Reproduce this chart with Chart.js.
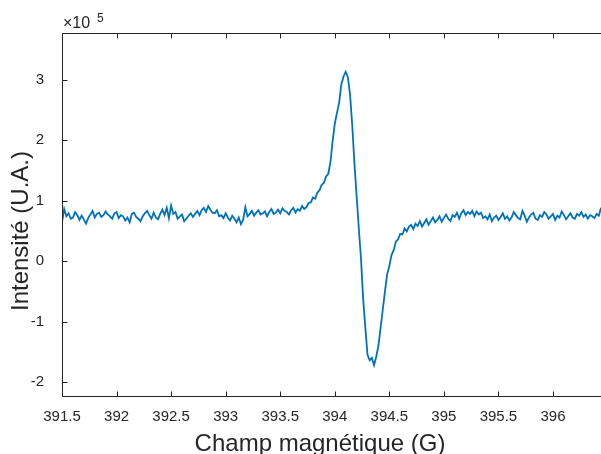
<!doctype html>
<html>
    <head>
        <title>Spectre RPE</title>
        <script src="https://cdn.jsdelivr.net/npm/chart.js@4/dist/chart.umd.min.js"></script>
        <style>
            html, body { margin: 0; padding: 0; background: #fff; }
            #chart { display: block; }
        </style>
    </head>
    <body>
        <canvas id="chart" width="601" height="454"></canvas>
        <script>
            // sampling of the field axis (G)
            const fieldStart = 391.5;
            const fieldStep = 0.02;
            const fieldMin = 391.5;
            const fieldMax = 396.44;
            const yMin = -2.23;
            const yMax = 3.77;
            const xTickValues = [391.5, 392, 392.5, 393, 393.5, 394, 394.5, 395, 395.5, 396];
            const yTickValues = [-2, -1, 0, 1, 2, 3];
            const xTitle = 'Champ magnétique (G)';
            const yTitle = 'Intensité (U.A.)';

            // intensity, in units of 1e5
            const intensity = [
                0.64, 0.86, 0.74, 0.79, 0.70, 0.72, 0.81, 0.76, 0.68, 0.75,
                0.69, 0.62, 0.71, 0.77, 0.83, 0.72, 0.78, 0.80, 0.73, 0.76,
                0.82, 0.77, 0.74, 0.70, 0.79, 0.81, 0.71, 0.76, 0.74, 0.67,
                0.72, 0.64, 0.78, 0.80, 0.73, 0.70, 0.66, 0.74, 0.79, 0.83,
                0.76, 0.70, 0.80, 0.72, 0.69, 0.78, 0.85, 0.76, 0.88, 0.71,
                0.92, 0.78, 0.81, 0.70, 0.74, 0.77, 0.66, 0.70, 0.75, 0.79,
                0.73, 0.78, 0.83, 0.76, 0.84, 0.88, 0.81, 0.91, 0.85, 0.80,
                0.79, 0.84, 0.74, 0.76, 0.71, 0.79, 0.72, 0.67, 0.75, 0.70,
                0.64, 0.72, 0.61, 0.68, 0.89, 0.74, 0.78, 0.83, 0.75, 0.80,
                0.84, 0.77, 0.79, 0.82, 0.74, 0.81, 0.86, 0.78, 0.80, 0.85,
                0.79, 0.87, 0.83, 0.81, 0.77, 0.84, 0.88, 0.80, 0.86, 0.83,
                0.91, 0.86, 0.89, 0.96, 0.97, 1.05, 1.03, 1.13, 1.17, 1.26,
                1.29, 1.40, 1.44, 1.63, 1.98, 2.27, 2.45, 2.62, 2.92, 3.05,
                3.13, 3.04, 2.75, 2.25, 1.62, 1.08, 0.55, 0.05, -0.62, -1.10,
                -1.55, -1.64, -1.60, -1.72, -1.58, -1.40, -1.10, -0.80, -0.50, -0.22,
                -0.08, 0.10, 0.18, 0.32, 0.36, 0.45, 0.44, 0.54, 0.49, 0.57,
                0.60, 0.53, 0.62, 0.58, 0.66, 0.57, 0.63, 0.69, 0.60, 0.66,
                0.72, 0.64, 0.68, 0.74, 0.65, 0.71, 0.77, 0.70, 0.66, 0.76,
                0.73, 0.80, 0.70, 0.79, 0.84, 0.76, 0.81, 0.78, 0.83, 0.74,
                0.82, 0.77, 0.80, 0.71, 0.74, 0.69, 0.77, 0.66, 0.72, 0.75,
                0.68, 0.73, 0.79, 0.70, 0.74, 0.67, 0.72, 0.81, 0.76, 0.71,
                0.69, 0.83, 0.75, 0.65, 0.72, 0.77, 0.80, 0.70, 0.68, 0.76,
                0.73, 0.81, 0.77, 0.70, 0.74, 0.78, 0.68, 0.75, 0.72, 0.82,
                0.76, 0.69, 0.74, 0.79, 0.72, 0.70, 0.78, 0.75, 0.81, 0.73,
                0.77, 0.70, 0.76, 0.74, 0.71, 0.78, 0.75, 0.88
            ];

            const AXIS_COLOR = '#262626';
            const LINE_COLOR = '#0072BD';
            const FONT = '"Liberation Sans", Arial, Helvetica, sans-serif';

            var points = [];
            for (var i = 0; i < intensity.length; i++) {
                points.push({ x: fieldStart + i * fieldStep, y: intensity[i] });
            }

            // box, inward ticks, axis titles and the x10^5 factor
            const matlabAxes = {
                id: 'matlabAxes',
                afterDraw: function (chart) {
                    var ctx = chart.ctx;
                    var a = chart.chartArea;
                    var xs = chart.scales.x;
                    var ys = chart.scales.y;
                    var L = Math.round(a.left) + 0.5;
                    var T = Math.round(a.top) + 0.5;
                    var B = Math.round(a.bottom) + 0.5;
                    var R = a.right;
                    ctx.save();
                    ctx.strokeStyle = AXIS_COLOR;
                    ctx.lineWidth = 1;
                    ctx.beginPath();
                    ctx.moveTo(R, T); ctx.lineTo(L, T); ctx.lineTo(L, B); ctx.lineTo(R, B);
                    xTickValues.forEach(function (v) {
                        var px = Math.round(xs.getPixelForValue(v)) + 0.5;
                        ctx.moveTo(px, B); ctx.lineTo(px, B - 5);
                        ctx.moveTo(px, T); ctx.lineTo(px, T + 5);
                    });
                    yTickValues.forEach(function (v) {
                        var py = Math.round(ys.getPixelForValue(v)) + 0.5;
                        ctx.moveTo(L, py); ctx.lineTo(L + 5, py);
                    });
                    ctx.stroke();

                    ctx.fillStyle = AXIS_COLOR;
                    ctx.font = '24px ' + FONT;
                    ctx.textAlign = 'center';
                    ctx.textBaseline = 'alphabetic';
                    ctx.fillText(xTitle, 320, 451);

                    ctx.save();
                    ctx.translate(28, 231);
                    ctx.rotate(-Math.PI / 2);
                    ctx.fillText(yTitle, 0, 0);
                    ctx.restore();

                    ctx.textAlign = 'left';
                    ctx.font = '16px ' + FONT;
                    ctx.fillText('\u00d710', 63, 28);
                    ctx.font = '12px ' + FONT;
                    ctx.fillText('5', 97, 22);
                    ctx.restore();
                }
            };

            new Chart(document.getElementById('chart').getContext('2d'), {
                type: 'line',
                data: {
                    datasets: [{
                        data: points,
                        borderColor: LINE_COLOR,
                        borderWidth: 1.8,
                        pointRadius: 0,
                        fill: false,
                        tension: 0
                    }]
                },
                options: {
                    responsive: false,
                    animation: false,
                    devicePixelRatio: 1,
                    layout: { padding: { top: 33, right: 0, left: 0, bottom: 0 } },
                    plugins: {
                        legend: { display: false },
                        tooltip: { enabled: false }
                    },
                    scales: {
                        x: {
                            type: 'linear',
                            min: fieldMin,
                            max: fieldMax,
                            border: { display: false },
                            grid: { display: false, drawTicks: false },
                            afterBuildTicks: function (scale) {
                                scale.ticks = xTickValues.map(function (v) { return { value: v }; });
                            },
                            afterFit: function (scale) { scale.height = 58; },
                            ticks: {
                                color: AXIS_COLOR,
                                font: { family: FONT, size: 15 },
                                padding: 12,
                                maxRotation: 0,
                                autoSkip: false,
                                callback: function (v) { return String(v); }
                            }
                        },
                        y: {
                            min: yMin,
                            max: yMax,
                            border: { display: false },
                            grid: { display: false, drawTicks: false },
                            afterBuildTicks: function (scale) {
                                scale.ticks = yTickValues.map(function (v) { return { value: v }; });
                            },
                            afterFit: function (scale) { scale.width = 62; },
                            ticks: {
                                color: AXIS_COLOR,
                                font: { family: FONT, size: 15 },
                                padding: 18,
                                callback: function (v) { return String(v); }
                            }
                        }
                    }
                },
                plugins: [matlabAxes]
            });
        </script>
    </body>
</html>
